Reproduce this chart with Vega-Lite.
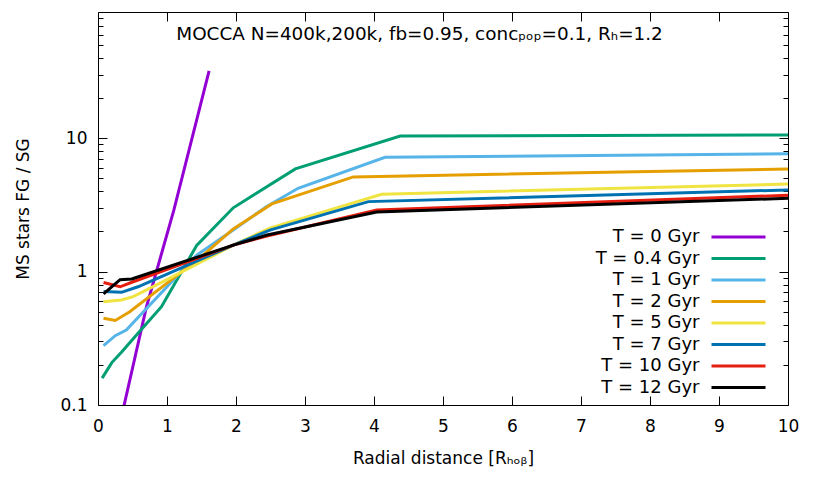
{
  "$schema": "https://vega.github.io/schema/vega-lite/v6.json",
  "width": 690,
  "height": 393,
  "autosize": "none",
  "padding": {"left": 98, "top": 12, "right": 34, "bottom": 88},
  "background": "white",
  "config": {
    "font": "DejaVu Sans",
    "view": {"stroke": "black", "strokeWidth": 1},
    "axis": {"grid": false, "domain": false, "tickColor": "black", "tickWidth": 1, "labelColor": "black", "labelFontSize": 17, "titleFontSize": 17, "titleFontWeight": "normal", "titleColor": "black", "labelFont": "DejaVu Sans", "titleFont": "DejaVu Sans"}
  },
  "data": {"values": [
    {"series": "T = 0 Gyr", "r": 0.3, "ratio": 0.066},
    {"series": "T = 0 Gyr", "r": 0.7, "ratio": 0.54},
    {"series": "T = 0 Gyr", "r": 1.1, "ratio": 2.9},
    {"series": "T = 0 Gyr", "r": 1.61, "ratio": 32},
    {"series": "T = 0.4 Gyr", "r": 0.06, "ratio": 0.159},
    {"series": "T = 0.4 Gyr", "r": 0.2, "ratio": 0.208},
    {"series": "T = 0.4 Gyr", "r": 0.34, "ratio": 0.249},
    {"series": "T = 0.4 Gyr", "r": 0.58, "ratio": 0.345},
    {"series": "T = 0.4 Gyr", "r": 0.92, "ratio": 0.546},
    {"series": "T = 0.4 Gyr", "r": 1.43, "ratio": 1.57},
    {"series": "T = 0.4 Gyr", "r": 1.96, "ratio": 3.01},
    {"series": "T = 0.4 Gyr", "r": 2.86, "ratio": 5.89},
    {"series": "T = 0.4 Gyr", "r": 4.38, "ratio": 10.4},
    {"series": "T = 0.4 Gyr", "r": 10, "ratio": 10.6},
    {"series": "T = 1 Gyr", "r": 0.08, "ratio": 0.279},
    {"series": "T = 1 Gyr", "r": 0.25, "ratio": 0.331},
    {"series": "T = 1 Gyr", "r": 0.41, "ratio": 0.365},
    {"series": "T = 1 Gyr", "r": 1.43, "ratio": 1.33},
    {"series": "T = 1 Gyr", "r": 1.96, "ratio": 2.05},
    {"series": "T = 1 Gyr", "r": 2.44, "ratio": 3.07},
    {"series": "T = 1 Gyr", "r": 2.9, "ratio": 4.22},
    {"series": "T = 1 Gyr", "r": 4.16, "ratio": 7.2},
    {"series": "T = 1 Gyr", "r": 10, "ratio": 7.66},
    {"series": "T = 2 Gyr", "r": 0.08, "ratio": 0.447},
    {"series": "T = 2 Gyr", "r": 0.25, "ratio": 0.43},
    {"series": "T = 2 Gyr", "r": 0.46, "ratio": 0.5},
    {"series": "T = 2 Gyr", "r": 1.0, "ratio": 0.82},
    {"series": "T = 2 Gyr", "r": 1.48, "ratio": 1.27},
    {"series": "T = 2 Gyr", "r": 1.96, "ratio": 2.09},
    {"series": "T = 2 Gyr", "r": 2.52, "ratio": 3.22},
    {"series": "T = 2 Gyr", "r": 3.7, "ratio": 5.13},
    {"series": "T = 2 Gyr", "r": 10, "ratio": 5.89},
    {"series": "T = 5 Gyr", "r": 0.08, "ratio": 0.595},
    {"series": "T = 5 Gyr", "r": 0.34, "ratio": 0.613},
    {"series": "T = 5 Gyr", "r": 0.51, "ratio": 0.65},
    {"series": "T = 5 Gyr", "r": 1.0, "ratio": 0.87},
    {"series": "T = 5 Gyr", "r": 1.96, "ratio": 1.58},
    {"series": "T = 5 Gyr", "r": 2.49, "ratio": 2.12},
    {"series": "T = 5 Gyr", "r": 4.11, "ratio": 3.8},
    {"series": "T = 5 Gyr", "r": 10, "ratio": 4.54},
    {"series": "T = 7 Gyr", "r": 0.08, "ratio": 0.71},
    {"series": "T = 7 Gyr", "r": 0.34, "ratio": 0.7},
    {"series": "T = 7 Gyr", "r": 0.58, "ratio": 0.77},
    {"series": "T = 7 Gyr", "r": 1.96, "ratio": 1.58},
    {"series": "T = 7 Gyr", "r": 2.49, "ratio": 2.05},
    {"series": "T = 7 Gyr", "r": 3.92, "ratio": 3.35},
    {"series": "T = 7 Gyr", "r": 10, "ratio": 4.1},
    {"series": "T = 10 Gyr", "r": 0.08, "ratio": 0.83},
    {"series": "T = 10 Gyr", "r": 0.32, "ratio": 0.77},
    {"series": "T = 10 Gyr", "r": 0.51, "ratio": 0.84},
    {"series": "T = 10 Gyr", "r": 1.96, "ratio": 1.58},
    {"series": "T = 10 Gyr", "r": 2.45, "ratio": 1.85},
    {"series": "T = 10 Gyr", "r": 4.04, "ratio": 2.9},
    {"series": "T = 10 Gyr", "r": 10, "ratio": 3.74},
    {"series": "T = 12 Gyr", "r": 0.08, "ratio": 0.68},
    {"series": "T = 12 Gyr", "r": 0.32, "ratio": 0.87},
    {"series": "T = 12 Gyr", "r": 0.49, "ratio": 0.88},
    {"series": "T = 12 Gyr", "r": 1.96, "ratio": 1.58},
    {"series": "T = 12 Gyr", "r": 2.45, "ratio": 1.88},
    {"series": "T = 12 Gyr", "r": 4.04, "ratio": 2.8},
    {"series": "T = 12 Gyr", "r": 10, "ratio": 3.55}
  ]},
  "layer": [
    {
      "mark": {"type": "line", "strokeWidth": 3, "clip": true},
      "encoding": {
        "x": {"field": "r", "type": "quantitative", "scale": {"domain": [0, 10], "nice": false, "zero": false},
          "axis": {"orient": "bottom", "values": [0,1,2,3,4,5,6,7,8,9,10], "format": "d", "tickSize": -9, "labelPadding": 22, "labelFlush": false, "title": "Radial distance [Rₕₒᵦ]", "titlePadding": 16}},
        "y": {"field": "ratio", "type": "quantitative", "scale": {"type": "log", "domain": [0.1, 88.5], "nice": false},
          "axis": {"orient": "left", "values": [0.1,0.2,0.3,0.4,0.5,0.6,0.7,0.8,0.9,1,2,3,4,5,6,7,8,9,10,20,30,40,50,60,70,80],
            "labelExpr": "datum.value == 0.1 ? '0.1' : datum.value == 1 ? '1' : datum.value == 10 ? '10' : ''",
            "labelOverlap": false,
            "tickSize": {"condition": {"test": "datum.value == 0.1 || datum.value == 1 || datum.value == 10", "value": -9}, "value": -5},
            "labelPadding": 20, "title": "MS stars FG / SG", "titlePadding": 27}},
        "color": {"field": "series", "type": "nominal",
          "scale": {"domain": ["T = 0 Gyr", "T = 0.4 Gyr", "T = 1 Gyr", "T = 2 Gyr", "T = 5 Gyr", "T = 7 Gyr", "T = 10 Gyr", "T = 12 Gyr"],
            "range": ["#9400d3", "#009e73", "#56b4e9", "#e69f00", "#f0e442", "#0072b2", "#e51e10", "#000000"]},
          "legend": {"orient": "none", "legendX": 604.5, "legendY": 216, "title": null, "symbolType": "M0,0H10", "symbolSize": 116.64, "symbolStrokeWidth": 3, "labelAlign": "right", "labelOffset": -21, "labelFontSize": 18, "labelColor": "black", "rowPadding": 3.5, "labelLimit": 300}}
      }
    },
    {
      "mark": {"type": "line", "opacity": 0},
      "encoding": {
        "x": {"field": "r", "type": "quantitative", "scale": {"domain": [0, 10], "nice": false, "zero": false},
          "axis": {"orient": "top", "values": [0,1,2,3,4,5,6,7,8,9,10], "labels": false, "tickSize": -9, "title": null}},
        "y": {"field": "ratio", "type": "quantitative", "scale": {"type": "log", "domain": [0.1, 88.5], "nice": false},
          "axis": {"orient": "right", "values": [0.1,0.2,0.3,0.4,0.5,0.6,0.7,0.8,0.9,1,2,3,4,5,6,7,8,9,10,20,30,40,50,60,70,80], "labels": false,
            "tickSize": {"condition": {"test": "datum.value == 0.1 || datum.value == 1 || datum.value == 10", "value": -9}, "value": -5}, "title": null}}
      }
    },
    {
      "data": {"values": [{"label": "MOCCA N=400k,200k, fb=0.95, concₚₒₚ=0.1, Rₕ=1.2"}]},
      "mark": {"type": "text", "fontSize": 18.4, "align": "center", "baseline": "alphabetic", "color": "black"},
      "encoding": {
        "x": {"datum": 4.66, "type": "quantitative", "scale": {"domain": [0, 10], "nice": false, "zero": false}, "axis": null},
        "y": {"datum": 54.6, "type": "quantitative", "scale": {"type": "log", "domain": [0.1, 88.5], "nice": false}, "axis": null},
        "text": {"field": "label"}
      }
    }
  ],
  "resolve": {"axis": {"x": "independent", "y": "independent"}}
}
